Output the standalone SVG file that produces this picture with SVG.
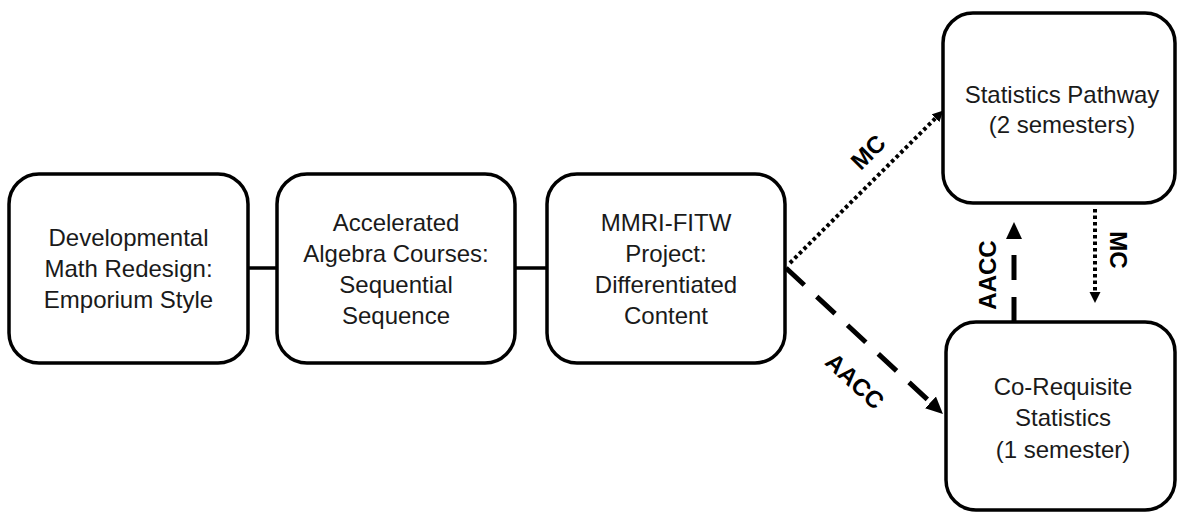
<svg xmlns="http://www.w3.org/2000/svg" width="1177" height="512" viewBox="0 0 1177 512">
<style>
.box{fill:#fff;stroke:#000;stroke-width:3.5}
.t{font-family:"Liberation Sans",Arial,sans-serif;font-size:24px;fill:#1a1a1a;text-anchor:middle}
.lbl{font-family:"Liberation Sans",Arial,sans-serif;font-size:24px;font-weight:bold;fill:#000;text-anchor:middle}
.solid{stroke:#000;stroke-width:3.5;fill:none}
.dash{stroke:#000;stroke-width:5;fill:none;stroke-dasharray:25 17}
.dot{stroke:#000;stroke-width:4;fill:none;stroke-dasharray:3.5 3}
</style>
<defs>
<marker id="big" markerUnits="userSpaceOnUse" viewBox="0 -9 18 18" refX="0" refY="0" markerWidth="18" markerHeight="18" orient="auto">
<path d="M0,-8 L17,0 L0,8 z" fill="#000"/>
</marker>
<marker id="small" markerUnits="userSpaceOnUse" viewBox="0 -6 12 12" refX="0" refY="0" markerWidth="12" markerHeight="12" orient="auto">
<path d="M0,-5.5 L11,0 L0,5.5 z" fill="#000"/>
</marker>
</defs>
<rect width="1177" height="512" fill="#fff"/>
<g id="connectors">
<line class="solid" x1="248" y1="268" x2="277" y2="268"/>
<line class="solid" x1="515" y1="268" x2="547" y2="268"/>
<line class="dot" x1="790" y1="263" x2="935.5" y2="118.2" marker-end="url(#small)"/>
<line class="dash" x1="786" y1="268" x2="930.5" y2="402.4" marker-end="url(#big)"/>
<line class="dash" x1="1014" y1="322" x2="1014" y2="239" marker-end="url(#big)"/>
<line class="dot" x1="1095" y1="209" x2="1095" y2="292" marker-end="url(#small)"/>
<text class="lbl" transform="translate(868,152) rotate(-45)" y="8.5">MC</text>
<text class="lbl" transform="translate(855,381) rotate(43)" y="8.5">AACC</text>
<text class="lbl" transform="translate(987,275) rotate(-90)" y="8.5">AACC</text>
<text class="lbl" transform="translate(1118,250) rotate(90)" y="8.5">MC</text>
</g>
<g id="node-dev">
<rect class="box" x="9" y="174" width="239" height="189" rx="30"/>
<text class="t" x="128.5" y="246">Developmental</text>
<text class="t" x="128.5" y="277">Math Redesign:</text>
<text class="t" x="128.5" y="308">Emporium Style</text>
</g>
<g id="node-acc">
<rect class="box" x="277" y="174" width="238" height="189" rx="30"/>
<text class="t" x="396" y="231">Accelerated</text>
<text class="t" x="396" y="262">Algebra Courses:</text>
<text class="t" x="396" y="293">Sequential</text>
<text class="t" x="396" y="324">Sequence</text>
</g>
<g id="node-mmri">
<rect class="box" x="547" y="174" width="238" height="189" rx="30"/>
<text class="t" x="666" y="231">MMRI-FITW</text>
<text class="t" x="666" y="262">Project:</text>
<text class="t" x="666" y="293">Differentiated</text>
<text class="t" x="666" y="324">Content</text>
</g>
<g id="node-stat">
<rect class="box" x="943" y="13" width="232" height="190" rx="30"/>
<text class="t" x="1062" y="103">Statistics Pathway</text>
<text class="t" x="1062" y="133">(2 semesters)</text>
</g>
<g id="node-coreq">
<rect class="box" x="946" y="322" width="229" height="188" rx="30"/>
<text class="t" x="1063" y="395">Co-Requisite</text>
<text class="t" x="1063" y="426">Statistics</text>
<text class="t" x="1063" y="458">(1 semester)</text>
</g>
</svg>
